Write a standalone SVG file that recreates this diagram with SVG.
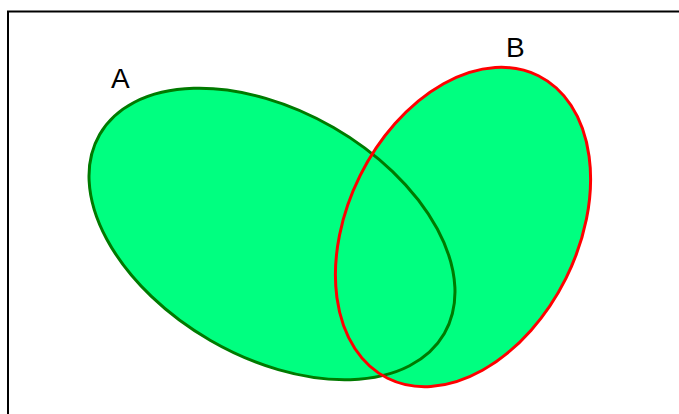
<svg xmlns="http://www.w3.org/2000/svg" width="679" height="414" viewBox="0 0 679 414">
<style>
.fill{fill:#00FF80;stroke:none}
.a{fill:none;stroke:#007A00;stroke-width:3}
.b{fill:none;stroke:#FF0000;stroke-width:3}
.lbl{font-family:"Liberation Sans",Arial,sans-serif;font-size:28px;fill:#000}
</style>
<rect x="0" y="0" width="679" height="414" fill="#fff"/>
<rect x="8" y="11.5" width="700" height="420" fill="none" stroke="#000" stroke-width="2"/>
<g id="nodeA">
<ellipse class="fill" cx="272" cy="234" rx="199" ry="123" transform="rotate(30 272 234)"/>
</g>
<g id="nodeB">
<ellipse class="fill" cx="463" cy="227" rx="169" ry="115" transform="rotate(-63.5 463 227)"/>
</g>
<g id="outlines">
<ellipse class="a" cx="272" cy="234" rx="199" ry="123" transform="rotate(30 272 234)"/>
<ellipse class="b" cx="463" cy="227" rx="169" ry="115" transform="rotate(-63.5 463 227)"/>
</g>
<text class="lbl" x="111" y="88">A</text>
<text class="lbl" x="506" y="57">B</text>
</svg>
